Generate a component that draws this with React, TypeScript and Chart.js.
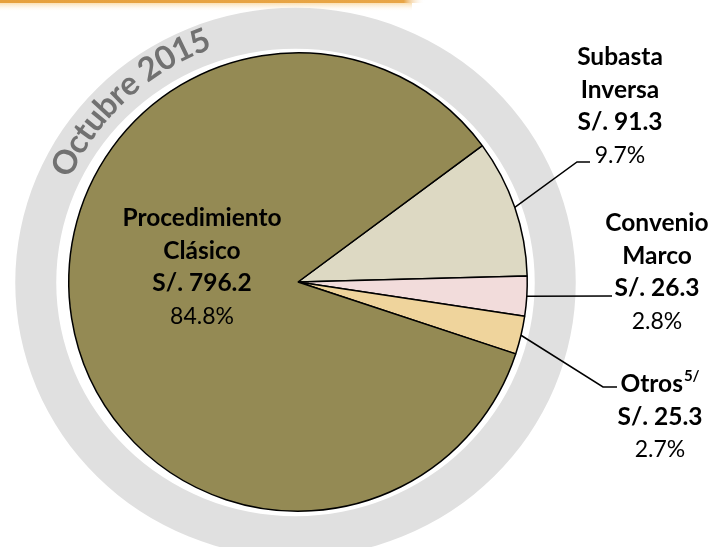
import React, { useEffect, useRef } from "react";
import { Chart, registerables } from "chart.js";

Chart.register(...registerables);

// ---- data ----
const categories = ["Subasta Inversa", "Convenio Marco", "Otros", "Procedimiento Clásico"];
const values = [91.3, 26.3, 25.3, 796.2];
const amountLabels = ["S/. 91.3", "S/. 26.3", "S/. 25.3", "S/. 796.2"];
const percentLabels = ["9.7%", "2.8%", "2.7%", "84.8%"];
const nameLines = [["Subasta", "Inversa"], ["Convenio", "Marco"], ["Otros"], ["Procedimiento", "Clásico"]];
const nameSuperscripts = ["", "", "5/", ""];
const periodLabel = "Octubre 2015";

// ---- styles / layout ----
const sliceColors = ["#DDD9C3", "#F2DCDB", "#EFD49C", "#948A54"];
const labelCenters = [
  { x: 620, y: 57 },
  { x: 657, y: 223 },
  { x: 660, y: 384 },
  { x: 202, y: 218 },
];
const leaderPaths: (number[][] | null)[] = [
  [[577, 162], [590, 162]],
  [[612, 296]],
  [[603, 387], [617, 387]],
  null,
];
const LINE_H = 32.7;
const FONT = "Lato, 'Open Sans', sans-serif";
const BOLD = `bold 24.5px ${FONT}`;
const REG = `23px ${FONT}`;
const SUP = `bold 15px ${FONT}`;

const decorPlugin = {
  id: "decor",
  beforeDraw(chart: any) {
    const ctx = chart.ctx;
    const arc = chart.getDatasetMeta(0).data[0];
    if (!arc) return;
    const cx = arc.x, cy = arc.y, r = arc.outerRadius;
    ctx.save();
    // top accent bar
    const gx = ctx.createLinearGradient(0, 0, 425, 0);
    gx.addColorStop(0, "rgba(230,160,60,1)");
    gx.addColorStop(0.95, "rgba(232,165,70,1)");
    gx.addColorStop(1, "rgba(255,255,255,0)");
    ctx.fillStyle = gx;
    ctx.fillRect(0, 0, 425, 3);
    const gy = ctx.createLinearGradient(0, 3, 0, 12);
    gy.addColorStop(0, "rgba(250,220,170,0.9)");
    gy.addColorStop(1, "rgba(255,255,255,0)");
    ctx.fillStyle = gy;
    ctx.fillRect(0, 3, 412, 9);
    // grey ring
    const rcx = cx - 2.5, rcy = cy + 0.5;
    const inRx = r + 10, inRy = r + 4.5, w = 41;
    ctx.beginPath();
    ctx.ellipse(rcx, rcy, inRx + w, inRy + w, 0, 0, Math.PI * 2);
    ctx.ellipse(rcx, rcy, inRx, inRy, 0, 0, Math.PI * 2, true);
    ctx.fillStyle = "#E0E0E0";
    ctx.fill("evenodd");
    // curved period text
    const tr = r + 28; // radius of letter centres
    const base = r + 19;
    ctx.font = `bold 30px ${FONT}`;
    const w30 = ctx.measureText(periodLabel).width;
    const size = 30 * 205 / w30;
    ctx.font = `bold ${size}px ${FONT}`;
    const total = ctx.measureText(periodLabel).width / tr;
    const mid = (227.5 * Math.PI) / 180;
    let a = mid - total / 2;
    ctx.fillStyle = "#717171";
    ctx.textAlign = "center";
    ctx.textBaseline = "alphabetic";
    for (const ch of periodLabel) {
      const cw = ctx.measureText(ch).width;
      const ang = a + cw / 2 / tr;
      ctx.save();
      ctx.translate(rcx + base * Math.cos(ang), rcy + base * Math.sin(ang));
      ctx.rotate(ang + Math.PI / 2);
      ctx.fillText(ch, 0, 0);
      ctx.restore();
      a += cw / tr;
    }
    ctx.restore();
  },
  afterDraw(chart: any) {
    const ctx = chart.ctx;
    const meta = chart.getDatasetMeta(0);
    ctx.save();
    meta.data.forEach((el: any, i: number) => {
      const path = leaderPaths[i];
      if (path) {
        const m = (el.startAngle + el.endAngle) / 2;
        ctx.beginPath();
        ctx.moveTo(el.x + Math.cos(m) * el.outerRadius, el.y + Math.sin(m) * el.outerRadius);
        path.forEach((p) => ctx.lineTo(p[0], p[1]));
        ctx.strokeStyle = "#000";
        ctx.lineWidth = 1.5;
        ctx.stroke();
      }
      const c = labelCenters[i];
      ctx.fillStyle = "#000";
      ctx.textBaseline = "middle";
      let y = c.y;
      const lines = nameLines[i];
      lines.forEach((ln, k) => {
        ctx.font = BOLD;
        const sup = k === lines.length - 1 ? nameSuperscripts[i] : "";
        if (sup) {
          const wMain = ctx.measureText(ln).width;
          ctx.font = SUP;
          const wSup = ctx.measureText(sup).width;
          const x0 = c.x - (wMain + wSup + 1) / 2;
          ctx.textAlign = "left";
          ctx.font = BOLD;
          ctx.fillText(ln, x0, y);
          ctx.font = SUP;
          ctx.fillText(sup, x0 + wMain + 1, y - 8);
        } else {
          ctx.textAlign = "center";
          ctx.fillText(ln, c.x, y);
        }
        y += LINE_H;
      });
      ctx.textAlign = "center";
      ctx.font = BOLD;
      ctx.fillText(amountLabels[i], c.x, y);
      y += LINE_H;
      ctx.font = REG;
      ctx.fillStyle = "#000";
      ctx.fillText(percentLabels[i], c.x, y);
    });
    ctx.restore();
  },
};

export default function App() {
  const ref = useRef<HTMLCanvasElement | null>(null);
  useEffect(() => {
    if (!ref.current) return;
    const chart = new Chart(ref.current, {
      type: "pie",
      data: {
        labels: categories,
        datasets: [
          {
            data: values,
            backgroundColor: sliceColors,
            borderColor: "#000",
            borderWidth: 1.5,
          },
        ],
      },
      options: {
        animation: false,
        responsive: false,
        rotation: 53.5,
        events: [],
        layout: { padding: { top: 52, bottom: 35, left: 68, right: 191 } },
        plugins: { legend: { display: false }, tooltip: { enabled: false } },
      },
      plugins: [decorPlugin],
    });
    return () => chart.destroy();
  }, []);
  return (
    <div style={{ position: "fixed", left: 0, top: 0, width: 719, height: 547, background: "#fff" }}>
      <canvas ref={ref} width={719} height={547} style={{ display: "block", width: 719, height: 547 }} />
    </div>
  );
}
